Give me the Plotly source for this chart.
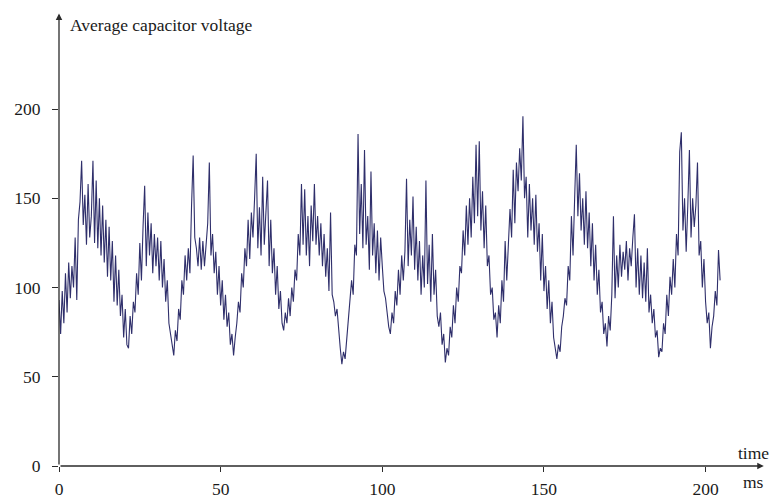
import numpy as np
import plotly.graph_objects as go

# time step 0.5 ms (per 10 ms row)
t_start = 0.0
t_step = 0.5
voltage = [
    93, 74, 98, 80, 108, 86, 114, 94, 112, 100, 128, 93, 138, 148, 171, 135, 152, 124, 158, 128,
    140, 171, 125, 160, 122, 150, 118, 146, 114, 138, 106, 134, 104, 126, 92, 118, 90, 110, 84, 96,
    72, 88, 68, 66, 84, 74, 92, 86, 108, 96, 125, 104, 134, 157, 112, 142, 118, 136, 108, 130,
    112, 128, 104, 126, 100, 116, 92, 104, 80, 74, 66, 62, 76, 70, 88, 82, 104, 96, 118, 104,
    122, 108, 146, 174, 128, 122, 112, 128, 110, 126, 112, 122, 136, 170, 118, 130, 108, 120, 96, 112,
    90, 104, 82, 96, 78, 86, 68, 74, 62, 72, 80, 92, 86, 108, 100, 122, 112, 138, 116, 142,
    128, 150, 175, 122, 145, 118, 162, 124, 140, 160, 112, 138, 108, 122, 96, 112, 88, 98, 80, 76,
    86, 80, 94, 84, 100, 92, 110, 104, 130, 118, 158, 124, 155, 118, 140, 112, 146, 126, 158, 124,
    140, 118, 136, 112, 130, 106, 122, 98, 142, 96, 92, 84, 88, 74, 66, 57, 64, 60, 72, 80,
    92, 104, 96, 124, 118, 186, 130, 158, 122, 177, 124, 140, 110, 165, 118, 136, 108, 132, 104, 128,
    112, 98, 94, 84, 78, 74, 86, 80, 98, 90, 110, 96, 118, 104, 120, 161, 112, 138, 118, 151,
    110, 134, 104, 126, 96, 118, 100, 160, 102, 124, 92, 130, 96, 110, 84, 78, 86, 68, 74, 58,
    66, 62, 78, 72, 90, 80, 100, 92, 112, 108, 132, 118, 146, 124, 150, 128, 162, 136, 180, 140,
    182, 132, 154, 122, 146, 112, 118, 96, 100, 82, 86, 72, 90, 80, 104, 92, 126, 104, 130, 144,
    128, 166, 136, 170, 154, 178, 160, 196, 150, 162, 128, 158, 132, 150, 124, 152, 120, 136, 104, 130,
    98, 112, 88, 104, 80, 92, 72, 66, 60, 68, 64, 78, 84, 94, 90, 112, 104, 140, 118, 150,
    180, 140, 164, 132, 150, 124, 154, 122, 142, 112, 136, 104, 124, 96, 110, 86, 92, 74, 80, 67,
    84, 76, 96, 140, 94, 118, 100, 124, 106, 120, 110, 126, 104, 122, 112, 128, 141, 100, 122, 96,
    118, 94, 114, 92, 122, 86, 96, 80, 88, 72, 76, 61, 66, 64, 80, 74, 96, 84, 106, 96,
    116, 100, 130, 118, 176, 187, 132, 150, 120, 146, 177, 128, 150, 134, 146, 170, 118, 126, 100, 116,
    92, 80, 86, 66, 78, 84, 98, 90, 121, 104,
]
time_ms = [t_start + i * t_step for i in range(len(voltage))]

x_ticks = [0, 50, 100, 150, 200]
y_ticks = [0, 50, 100, 150, 200]

x_max = 219
y_max = 255.5
axis_color = "#2b2b2b"
line_color = "#2f2f6b"
font_family = "Liberation Serif, 'Times New Roman', serif"
font_size = 17.5
text_color = "#1a1a1a"

fig = go.Figure()
fig.add_trace(go.Scatter(
    x=time_ms, y=voltage, mode="lines",
    line=dict(color=line_color, width=1.1),
    hoverinfo="skip", showlegend=False,
))

fig.update_layout(
    width=772, height=498,
    margin=dict(l=59, r=5, t=10, b=32, autoexpand=False),
    paper_bgcolor="white", plot_bgcolor="white",
    font=dict(family=font_family, size=font_size, color=text_color),
    xaxis=dict(range=[0, x_max], tickvals=x_ticks, ticks="outside", ticklen=5,
               tickwidth=1, tickcolor=axis_color, showgrid=False, zeroline=False,
               showline=False, automargin=False, ticklabelstandoff=2,
               tickfont=dict(family=font_family, size=font_size, color=text_color)),
    yaxis=dict(range=[0, y_max], tickvals=y_ticks, ticks="outside", ticklen=6,
               tickwidth=1, tickcolor=axis_color, showgrid=False, zeroline=False,
               showline=False, automargin=False, ticklabelstandoff=8,
               tickfont=dict(family=font_family, size=font_size, color=text_color)),
    annotations=[
        dict(x=218, y=0, ax=0, ay=0, xref="x", yref="y", axref="x", ayref="y",
             text="", showarrow=True, arrowhead=2, arrowsize=1, arrowwidth=1.3,
             arrowcolor=axis_color),
        dict(x=0, y=253.5, ax=0, ay=0, xref="x", yref="y", axref="x", ayref="y",
             text="", showarrow=True, arrowhead=2, arrowsize=1, arrowwidth=1.3,
             arrowcolor=axis_color),
        dict(x=2.8, y=247, xref="x", yref="y", text="Average capacitor voltage",
             showarrow=False, xanchor="left", yanchor="middle",
             font=dict(family=font_family, size=font_size, color=text_color)),
        dict(x=1, y=0, xref="paper", yref="paper", text="time", showarrow=False,
             xanchor="right", yanchor="middle", xshift=4, yshift=13,
             font=dict(family=font_family, size=font_size, color=text_color)),
        dict(x=1, y=0, xref="paper", yref="paper", text="ms", showarrow=False,
             xanchor="right", yanchor="middle", xshift=-1, yshift=-16,
             font=dict(family=font_family, size=font_size, color=text_color)),
    ],
)

# remove the browser's default 8 px body margin so the figure fills the window
page_fix = ("document.body.style.margin='0';"
            "document.body.style.overflow='hidden';"
            "document.documentElement.style.overflow='hidden';")
fig.write_html("out.html", post_script=page_fix, config={"displayModeBar": False})
